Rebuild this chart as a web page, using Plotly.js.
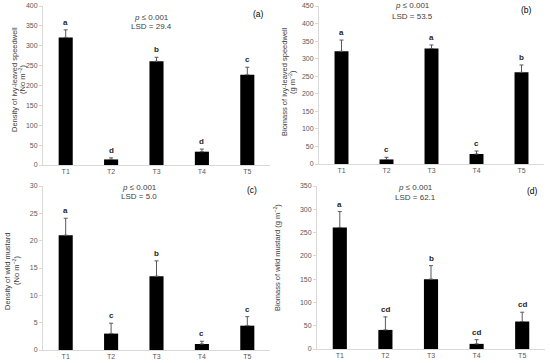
<!DOCTYPE html>
<html><head><meta charset="utf-8">
<script src="https://cdn.plot.ly/plotly-3.0.1.min.js"></script>
<style>html,body{margin:0;padding:0;background:#fff}#chart{width:550px;height:363px}</style>
</head><body><div id="chart"></div>
<script>
const categories = ["T1","T2","T3","T4","T5"];

const densitySpeedwell = [321, 14, 261, 33.5, 227];
const densitySpeedwellErr = [19, 4, 10, 6.5, 19];
const densitySpeedwellLetters = ["a","d","b","d","c"];

const biomassSpeedwell = [321, 13, 329, 28.5, 261];
const biomassSpeedwellErr = [32, 6, 10, 8.5, 21];
const biomassSpeedwellLetters = ["a","c","a","c","b"];

const densityMustard = [21.0, 3.0, 13.5, 1.1, 4.45];
const densityMustardErr = [3.1, 1.9, 2.8, 0.5, 1.65];
const densityMustardLetters = ["a","c","b","c","c"];

const biomassMustard = [261, 41, 150, 11, 59];
const biomassMustardErr = [34, 28, 29, 9, 20];
const biomassMustardLetters = ["a","cd","b","cd","cd"];

const W = 550, H = 363;
const px = x => x / W;
const py = y => 1 - y / H;
const FONT = "Liberation Sans, Arial, sans-serif";

const panels = [
  {vals: densitySpeedwell, err: densitySpeedwellErr, let: densitySpeedwellLetters,
   xd: [43, 270], yd: [6, 165], range: [0, 400], dtick: 50,
   stat: [["<i>p</i> ≤ 0.001", 151, 17], ["LSD = 29.4", 151, 27]], tag: "(a)", tx: 258, ty: 14,
   titles: [["Density of ivy-leaved speedwell", 14, 80], ["(No m<sup>−2</sup>)", 22, 80]]},
  {vals: biomassSpeedwell, err: biomassSpeedwellErr, let: biomassSpeedwellLetters,
   xd: [319, 544], yd: [6, 164], range: [0, 450], dtick: 50,
   stat: [["<i>p</i> ≤ 0.001", 412, 6], ["LSD = 53.5", 412, 16]], tag: "(b)", tx: 526, ty: 10,
   titles: [["Biomass of ivy-leaved speedwell", 284, 82], ["(g m<sup>−2</sup>)", 292, 82]]},
  {vals: densityMustard, err: densityMustardErr, let: densityMustardLetters,
   xd: [43, 270], yd: [186, 350], range: [0, 30], dtick: 5,
   stat: [["<i>p</i> ≤ 0.001", 139, 187], ["LSD = 5.0", 139, 196]], tag: "(c)", tx: 252, ty: 190,
   titles: [["Density of wild mustard", 7, 271], ["(No m<sup>−2</sup>)", 16, 271]]},
  {vals: biomassMustard, err: biomassMustardErr, let: biomassMustardLetters,
   xd: [317, 545], yd: [186, 349], range: [0, 350], dtick: 50,
   stat: [["<i>p</i> ≤ 0.001", 415, 187], ["LSD = 62.1", 415, 197]], tag: "(d)", tx: 532, ty: 191,
   titles: [["Biomass of wild mustard (g m<sup>−2</sup>)", 277, 258]]}
];

const data = [];
const layout = {
  width: W, height: H, margin: {l: 0, r: 0, t: 0, b: 0},
  paper_bgcolor: "#fff", plot_bgcolor: "#fff", showlegend: false,
  font: {family: FONT, color: "#595959", size: 7},
  annotations: []
};

panels.forEach((p, i) => {
  const n = i + 1;
  const xa = n === 1 ? "x" : "x" + n;
  const ya = n === 1 ? "y" : "y" + n;
  data.push({
    type: "bar", x: categories, y: p.vals, xaxis: xa, yaxis: ya,
    width: 0.31, marker: {color: "#000"},
    error_y: {type: "data", array: p.err, arrayminus: p.err.map(() => 0), symmetric: false,
              color: "#595959", thickness: 1, width: 2},
    hoverinfo: "none"
  });
  layout["xaxis" + (n === 1 ? "" : n)] = {
    domain: [px(p.xd[0]), px(p.xd[1])], anchor: ya, type: "category",
    showline: true, linecolor: "#d9d9d9", linewidth: 1, ticks: "", showgrid: false,
    zeroline: false, tickfont: {size: 7, color: "#595959", family: FONT}, fixedrange: true
  };
  layout["yaxis" + (n === 1 ? "" : n)] = {
    domain: [py(p.yd[1]), py(p.yd[0])], anchor: xa, range: p.range, dtick: p.dtick, tick0: 0,
    showline: true, linecolor: "#d9d9d9", linewidth: 1, ticks: "outside", ticklen: 3,
    tickcolor: "#d9d9d9", showgrid: false, zeroline: false,
    tickfont: {size: 7, color: "#595959", family: FONT}, fixedrange: true
  };
  p.let.forEach((t, j) => {
    layout.annotations.push({
      xref: xa, yref: ya, x: categories[j], y: p.vals[j] + p.err[j], text: "<b>" + t + "</b>",
      showarrow: false, yanchor: "bottom", yshift: 1,
      font: {size: 8, color: "#262626", family: FONT}
    });
  });
  p.stat.forEach(s => {
    layout.annotations.push({
      xref: "paper", yref: "paper", x: px(s[1]), y: py(s[2]), text: s[0],
      showarrow: false, xanchor: "center", yanchor: "middle",
      font: {size: 8, color: "#404040", family: FONT}
    });
  });
  layout.annotations.push({
    xref: "paper", yref: "paper", x: px(p.tx), y: py(p.ty), text: p.tag,
    showarrow: false, xanchor: "center", yanchor: "middle",
    font: {size: 8.5, color: "#000", family: FONT}
  });
  p.titles.forEach(t => {
    layout.annotations.push({
      xref: "paper", yref: "paper", x: px(t[1]), y: py(t[2]), text: t[0],
      showarrow: false, xanchor: "center", yanchor: "middle", textangle: -90,
      font: {size: 7.5, color: "#404040", family: FONT}
    });
  });
});

Plotly.newPlot("chart", data, layout, {displayModeBar: false, staticPlot: true});
</script></body></html>
